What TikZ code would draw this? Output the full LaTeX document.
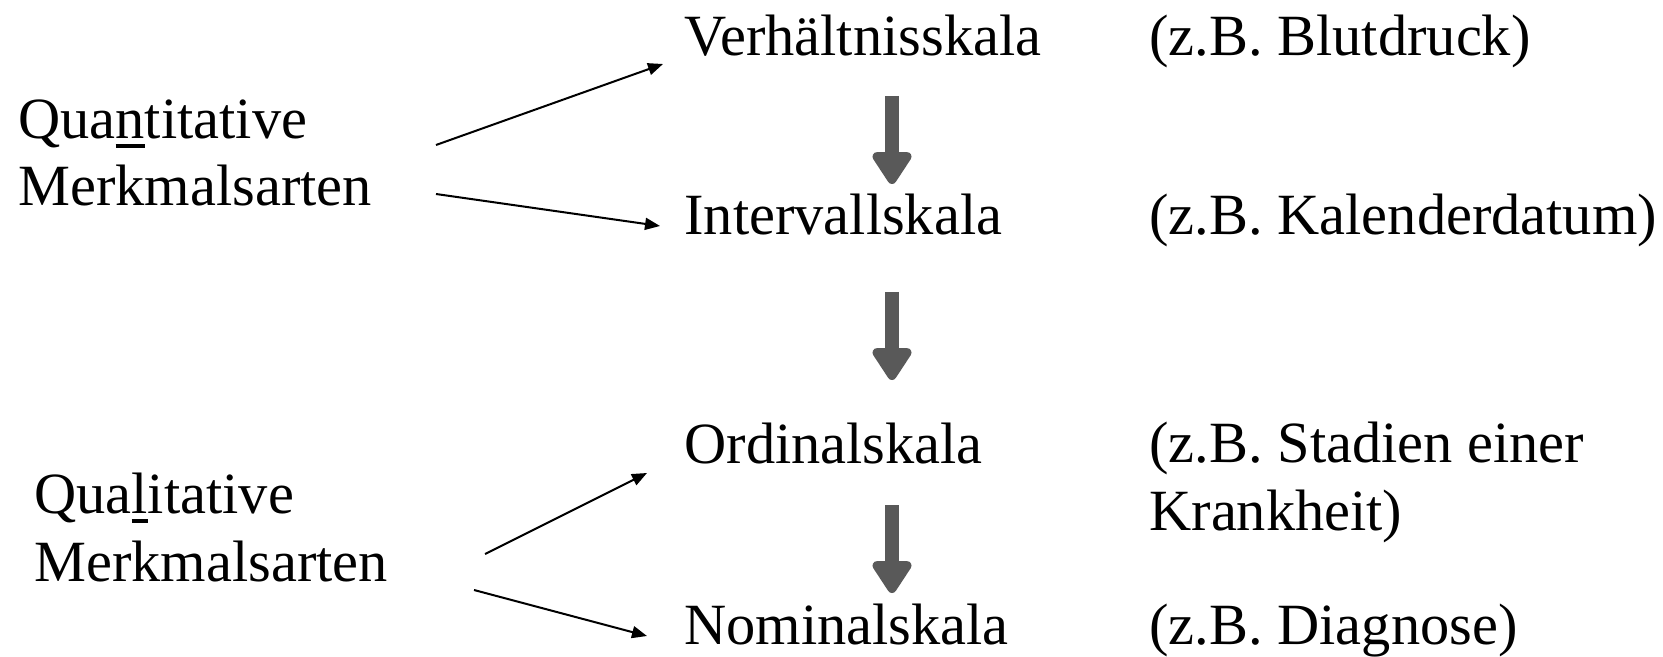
\documentclass[tikz,border=0pt]{standalone}
\usepackage{fontspec}
\setmainfont{Liberation Serif}
\usetikzlibrary{arrows.meta}
\definecolor{pfeilgrau}{HTML}{595959}
\newcommand{\unter}[1]{\setbox0\hbox{#1}\rlap{\rule[-4.6pt]{\wd0}{1.6pt}}\box0}

\begin{document}
\begin{tikzpicture}[x=0.5pt,y=-0.5pt,
    every node/.style={font=\fontsize{29.2}{33.8}\selectfont,inner sep=0pt,anchor=base west},
    skala/.style={},
    beispiel/.style={align=left},
    art/.style={align=left},
    zuordnung/.style={line width=1pt,-{Triangle[length=7.5pt,width=6pt]}},
    ordnung/.style={pfeilgrau,line width=7pt,-{Triangle[length=18pt,width=22pt,round,line width=5pt]}}]
    \useasboundingbox (0,0) rectangle (1663,657);

    % Skalen
    \node[skala] (verh)  at (684,56)  {Verhältnisskala};
    \node[skala] (inter) at (684,235) {Intervallskala};
    \node[skala] (ord)   at (684,463) {Ordinalskala};
    \node[skala] (nom)   at (684,644) {Nominalskala};

    % Beispiele (Grundlinie = letzte Zeile)
    \node[beispiel] (bsp_verh)  at (1149,56)  {(z.B. Blutdruck)};
    \node[beispiel] (bsp_inter) at (1149,235) {(z.B. Kalenderdatum)};
    \node[beispiel] (bsp_ord)   at (1149,530) {(z.B. Stadien einer\\Krankheit)};
    \node[beispiel] (bsp_nom)   at (1149,644) {(z.B. Diagnose)};

    % Merkmalsarten
    \node[art] (quan) at (18,206) {Qua\unter{n}titative\\Merkmalsarten};
    \node[art] (qual) at (34,581) {Qua\unter{l}itative\\Merkmalsarten};

    \path[zuordnung]
    ([shift={(418,-61)}]quan.base west) edge ([shift={(-21,8)}]verh.base west)
    ([shift={(418,-12)}]quan.base west) edge ([shift={(-24,-9)}]inter.base west)
    ([shift={(451,-27)}]qual.base west) edge ([shift={(-37,10)}]ord.base west)
    ([shift={(440,9)}]qual.base west)   edge ([shift={(-37,-8)}]nom.base west);

    \path[ordnung]
    ([shift={(208,40)}]verh.base west)  edge ([shift={(208,-51)}]inter.base west)
    ([shift={(208,57)}]inter.base west) edge ([shift={(208,-83)}]ord.base west)
    ([shift={(208,42)}]ord.base west)   edge ([shift={(208,-51)}]nom.base west);
\end{tikzpicture}
\end{document}
